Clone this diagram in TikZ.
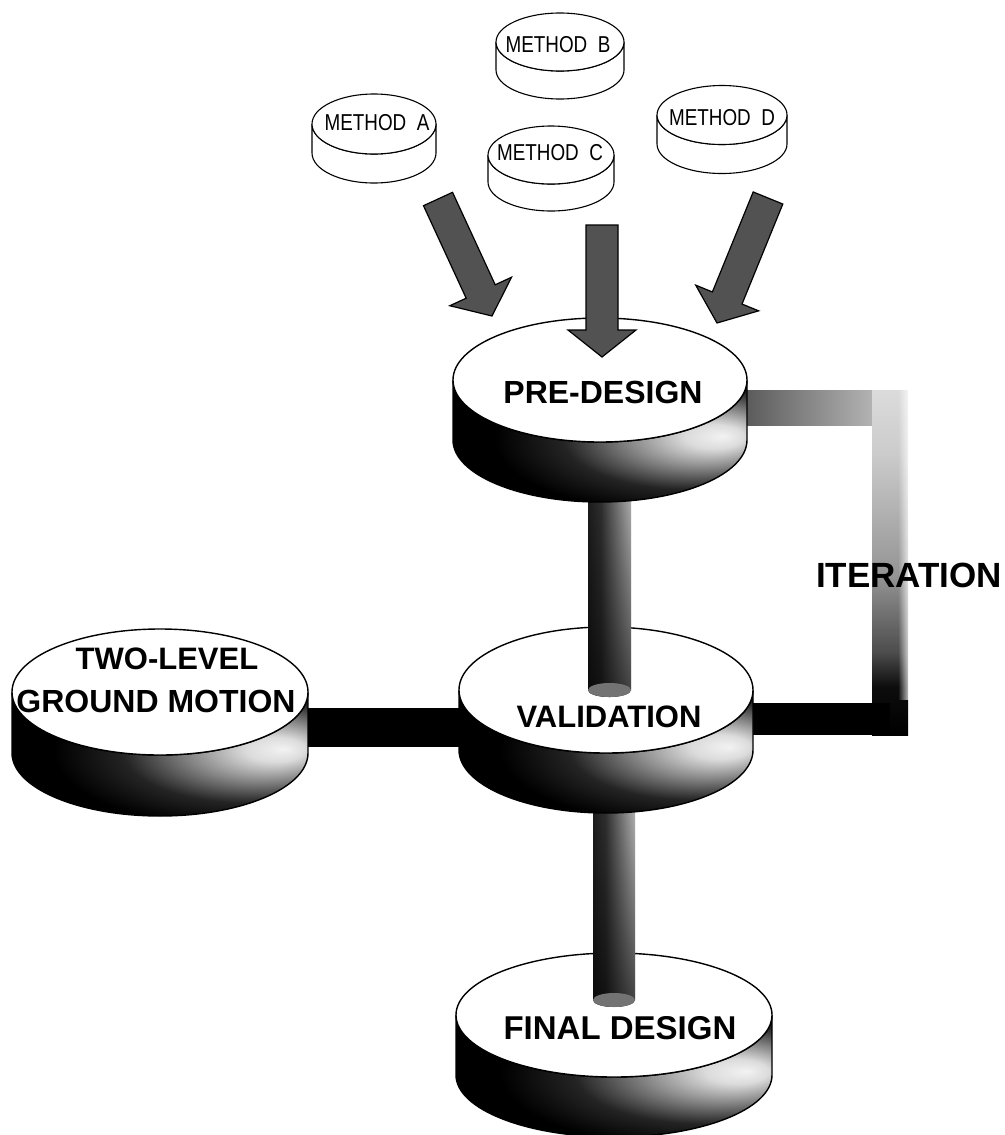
\documentclass[tikz,border=0pt]{standalone}
\usepackage{fontspec}
\setmainfont{Liberation Sans}
\usepackage{graphicx}
\usetikzlibrary{shapes.geometric,calc,fadings}
\pgfdeclarelayer{Lbg}\pgfdeclarelayer{Lbars}\pgfdeclarelayer{Lfinal}\pgfdeclarelayer{Ltube2}
\pgfdeclarelayer{Lmid}\pgfdeclarelayer{Ltube1}\pgfdeclarelayer{Lpre}
\pgfsetlayers{Lbg,Lbars,Lfinal,Ltube2,Lmid,Ltube1,Lpre,main}
\pgfdeclareradialshading{cylrad}{\pgfpoint{21bp}{2bp}}{color(0bp)=(black!5); color(5bp)=(black!14); color(12bp)=(black!45); color(21bp)=(black!86); color(30bp)=(black); color(70bp)=(black)}
\pgfdeclarehorizontalshading{tubesh}{100bp}{color(0bp)=(black!88); color(25bp)=(black!88); color(40bp)=(black!80); color(75bp)=(black!26); color(100bp)=(black!26)}
\pgfdeclareverticalshading{itsh}{100bp}{color(0bp)=(black); color(25bp)=(black); color(32bp)=(black!95); color(37bp)=(black!70); color(48bp)=(black!42); color(66bp)=(black!20); color(75bp)=(black!14); color(100bp)=(black!14)}
\tikzfading[name=fadeR, left color=transparent!100, right color=transparent!0]
\tikzfading[name=fadeD, top color=transparent!100, bottom color=transparent!35]
\tikzset{
  topface/.style={ellipse, draw, fill=white, inner sep=0pt, line width=1.4bp},
  bigside/.style={shade, shading=cylrad, draw, line width=1.4bp},
  smallface/.style={ellipse, draw, fill=white, inner sep=0pt, line width=1.1bp},
  smallside/.style={fill=white, draw, line width=1.1bp},
  bigtext/.style={font=\fontsize{#1bp}{#1bp}\selectfont\bfseries, inner sep=0pt},
  methtext/.style={font=\fontsize{23bp}{25bp}\selectfont, inner sep=0pt},
  blockarrow/.style={fill=black!68, draw=black, line width=1.2bp, line join=miter},
  tubeshade/.style={shade, shading=tubesh},
}
% #1 face style, #2 name, #3 cx, #4 cy, #5 rx, #6 ry, #7 thickness, #8 side style
\newcommand\drawcyl[8]{%
  \path[#8] (#3-#5,#4) -- (#3-#5,#4+#7)
     arc[start angle=180,end angle=0,x radius=#5,y radius=#6]
     -- (#3+#5,#4)
     arc[start angle=0,end angle=180,x radius=#5,y radius=#6] -- cycle;
  \node[#1, minimum width={2*#5bp}, minimum height={2*#6bp}] (#2) at (#3,#4) {};
}
% block arrow from coordinate #1 to coordinate #2
\newcommand\blockarr[2]{%
  \coordinate (#1h) at ($(#2)!27bp!(#1)$);
  \draw[blockarrow] ($(#1)!16bp!90:(#2)$) -- ($(#1h)!16bp!90:(#2)$)
     -- ($(#1h)!34bp!90:(#2)$) -- (#2) -- ($(#1h)!34bp!-90:(#2)$)
     -- ($(#1h)!16bp!-90:(#2)$) -- ($(#1)!16bp!-90:(#2)$) -- cycle;
}
\begin{document}
\begin{tikzpicture}[x=1bp,y=-1bp]
\useasboundingbox (0,0) rectangle (1005,1135);
\begin{pgfonlayer}{Lbg}
  \fill[white] (0,0) rectangle (1005,1135);
\end{pgfonlayer}

% ---------- cylinders ----------
\begin{pgfonlayer}{Lfinal}
  \drawcyl{topface}{fin}{614}{1015}{158}{62}{60}{bigside}
\end{pgfonlayer}
\begin{pgfonlayer}{Lmid}
  \drawcyl{topface}{two}{160}{692}{148}{63}{61}{bigside}
  \drawcyl{topface}{val}{606}{690}{147}{63}{60}{bigside}
\end{pgfonlayer}
\begin{pgfonlayer}{Lpre}
  \drawcyl{topface}{pre}{600}{380}{147}{62}{60}{bigside}
\end{pgfonlayer}

\drawcyl{smallface}{mA}{374}{124}{62}{30}{29}{smallside}
\drawcyl{smallface}{mB}{560}{42}{64}{29}{28}{smallside}
\drawcyl{smallface}{mC}{551}{155}{63}{29}{27}{smallside}
\drawcyl{smallface}{mD}{722}{115}{65}{29.5}{29}{smallside}

% ---------- connectors ----------
\begin{pgfonlayer}{Lbars}
  % two-level -- validation
  \fill[black] (two.center |- 0,708) rectangle (val.center |- 0,747);
  % iteration loop
  \coordinate (itTop) at (908,390);
  \coordinate (itBot) at (908,735);
  \shade[left color=black!66, right color=black!30] (740,390) rectangle (872,425);
  \shade[shading=itsh] (872,390) rectangle (itBot);
  \fill[black] (val.center |- 0,703) rectangle (890,735);
  \fill[white, path fading=fadeR] (898,385) rectangle (912,700);
\end{pgfonlayer}

\begin{pgfonlayer}{Ltube1}
  \coordinate (t1end) at (609.5,690);
  \path[tubeshade] (588,470) -- (588,690)
     arc[start angle=180,end angle=0,x radius=21.5,y radius=7] -- (631,470) -- cycle;
  \fill[black, path fading=fadeD] (588,470) -- (588,690)
     arc[start angle=180,end angle=0,x radius=21.5,y radius=7] -- (631,470) -- cycle;
  \fill[black!55] (t1end) ellipse [x radius=21.5, y radius=7];
\end{pgfonlayer}

\begin{pgfonlayer}{Ltube2}
  \coordinate (t2end) at (614,1000);
  \path[tubeshade] (593,790) -- (593,1000)
     arc[start angle=180,end angle=0,x radius=21,y radius=7] -- (635,790) -- cycle;
  \fill[black, path fading=fadeD] (593,790) -- (593,1000)
     arc[start angle=180,end angle=0,x radius=21,y radius=7] -- (635,790) -- cycle;
  \fill[black!55] (t2end) ellipse [x radius=21, y radius=7];
\end{pgfonlayer}

% block arrows from methods to pre-design
\coordinate (aA) at (438,199); \coordinate (aAt) at (492,316);
\coordinate (aC) at (602,225); \coordinate (aCt) at (602,357);
\coordinate (aD) at (768,198); \coordinate (aDt) at (717,323);
\blockarr{aA}{aAt}
\blockarr{aC}{aCt}
\blockarr{aD}{aDt}

% ---------- labels ----------
\node[methtext] (tA) at (377,123) {\scalebox{0.82}[1]{METHOD\ \ A}};
\node[methtext] (tB) at (558,45) {\scalebox{0.82}[1]{METHOD\ \ B}};
\node[methtext] (tC) at (550,153) {\scalebox{0.82}[1]{METHOD\ \ C}};
\node[methtext] (tD) at (722,118) {\scalebox{0.82}[1]{METHOD\ \ D}};

\node[bigtext=32] (tPre) at (603,392) {PRE-DESIGN};
\node[bigtext=31] (tVal) at (609,717) {VALIDATION};
\node[bigtext=31] (tTwo1) at (167,659) {TWO-LEVEL};
\node[bigtext=32] (tTwo2) at (156,701) {GROUND MOTION};
\node[bigtext=33] (tFin) at (620,1028) {FINAL DESIGN};
\node[bigtext=35] (iter) at (909,575) {ITERATION};
\end{tikzpicture}
\end{document}
